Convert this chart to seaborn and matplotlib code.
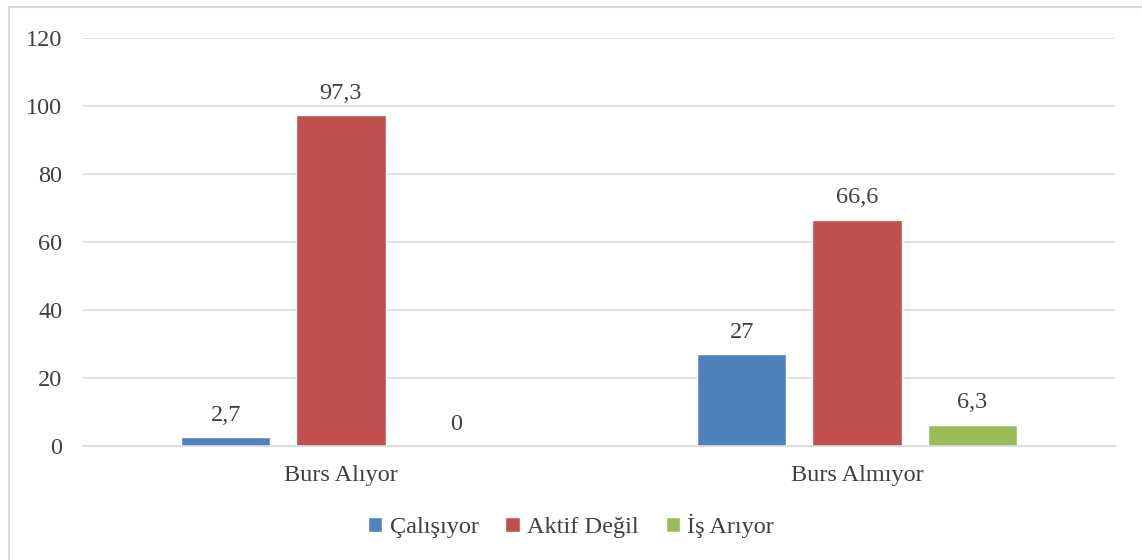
import matplotlib
matplotlib.use("Agg")
import matplotlib.pyplot as plt
import seaborn as sns
import pandas as pd
from matplotlib.patches import Rectangle

categories = ["Burs Alıyor", "Burs Almıyor"]
series = ["Çalışıyor", "Aktif Değil", "İş Arıyor"]
calisiyor = [2.7, 27]
aktif_degil = [97.3, 66.6]
is_ariyor = [0, 6.3]
colors = ["#4F81BD", "#C0504D", "#9BBB59"]
yticks = [0, 20, 40, 60, 80, 100, 120]

rows = []
for s, vals in zip(series, [calisiyor, aktif_degil, is_ariyor]):
    for c, v in zip(categories, vals):
        rows.append({"cat": c, "series": s, "value": v})
df = pd.DataFrame(rows)

sns.set_theme(style="white")
plt.rcParams["font.family"] = ["Liberation Serif", "DejaVu Serif"]
text_color = "#404040"
fs = 17.5

fig = plt.figure(figsize=(11.42, 5.6), dpi=100)
ax = fig.add_axes([83/1142, (560-446)/560, (1115-83)/1142, (446-38)/560])

sns.barplot(data=df, x="cat", y="value", hue="series", hue_order=series,
            order=categories, palette=colors, width=0.67, gap=0.226,
            saturation=1, ax=ax, legend=True)

ax.set_ylim(0, 120)
ax.set_xlim(-0.5, 1.5)
ax.set_yticks(yticks)
ax.grid(axis="y", color="#d9d9d9", linewidth=1.2)
ax.set_axisbelow(True)
for sp in ["top", "right", "left"]:
    ax.spines[sp].set_visible(False)
ax.spines["bottom"].set_color("#d9d9d9")
ax.spines["bottom"].set_linewidth(1.2)
ax.tick_params(axis="both", length=0, labelsize=fs, colors=text_color)
ax.tick_params(axis="x", pad=14)
ax.tick_params(axis="y", pad=15)
ax.set_xlabel("")
ax.set_ylabel("")

def fmt(v):
    return str(int(v)) if float(v).is_integer() else str(v).replace(".", ",")

for cont in ax.containers:
    labels = [fmt(b.get_height()) for b in cont]
    ax.bar_label(cont, labels=labels, padding=8, fontsize=fs, color=text_color)

handles, labels = ax.get_legend_handles_labels()
ax.legend_.remove()
fig.legend(handles, labels, loc="center", bbox_to_anchor=(0.5, (560-526)/560),
           ncol=3, frameon=False, fontsize=fs, handlelength=0.6, handleheight=0.6,
           handletextpad=0.3, columnspacing=1.1, labelcolor=text_color)

fig.patches.append(Rectangle((9/1142, -0.01), 1.0, (560-7)/560 + 0.01,
                             transform=fig.transFigure, fill=False,
                             edgecolor="#d9d9d9", linewidth=1.5))

fig.savefig("out.png", dpi=100, facecolor="white")
